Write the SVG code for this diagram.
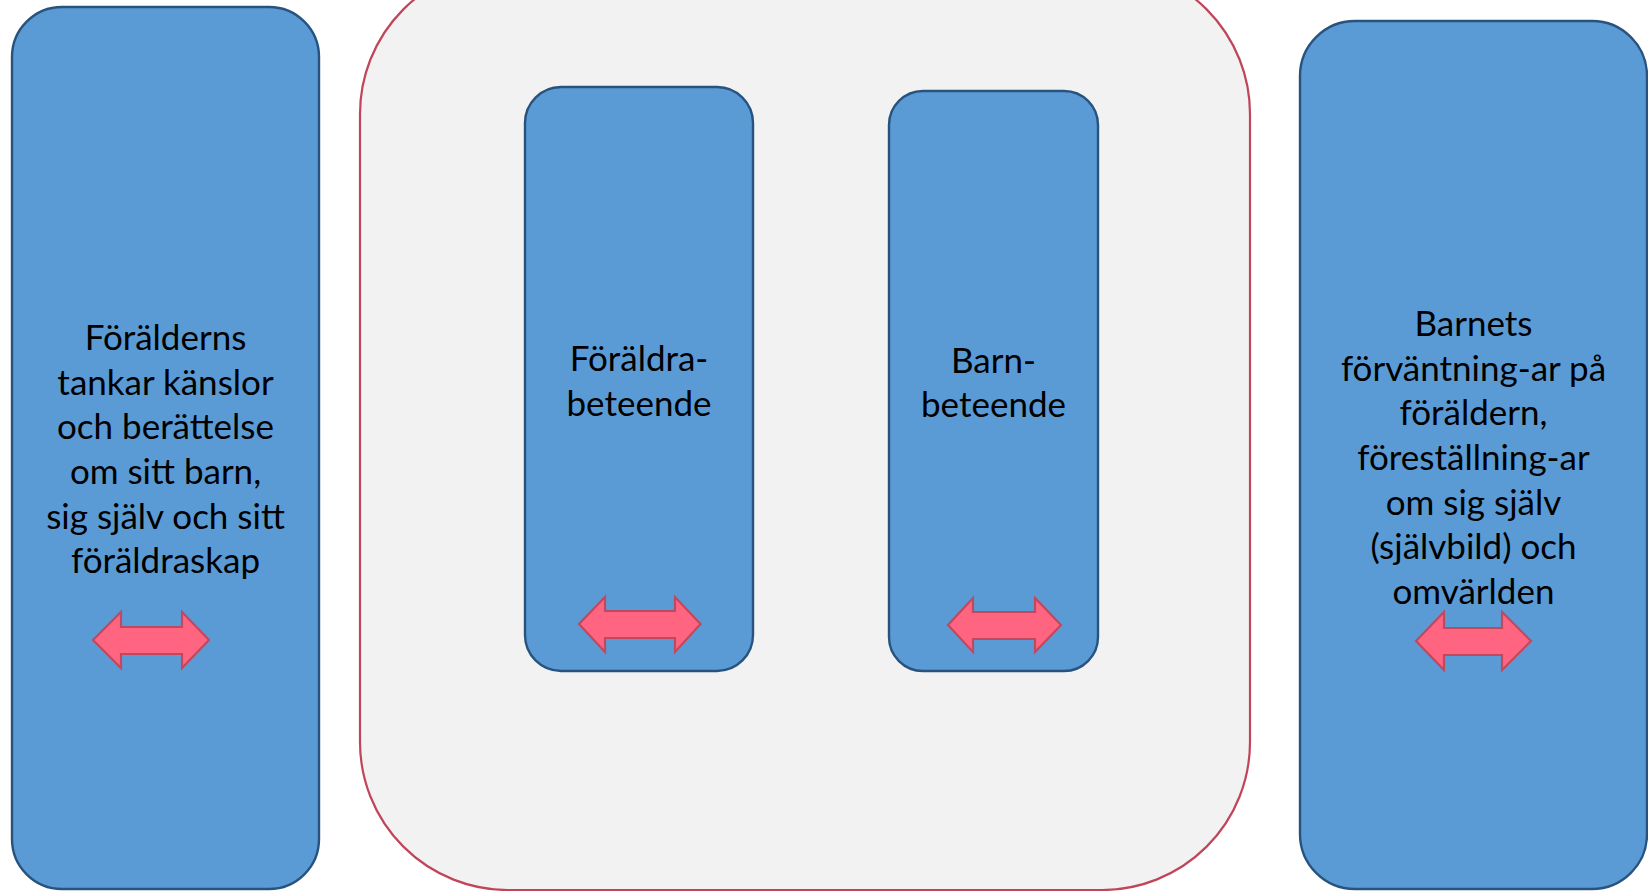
<svg xmlns="http://www.w3.org/2000/svg" width="1648" height="891" viewBox="0 0 1648 891">
  <style>
    .box { fill: #5B9BD5; stroke: #27537E; stroke-width: 2.4; }
    .frame { fill: #F2F2F2; stroke: #C0455A; stroke-width: 2.2; }
    .arrow { fill: #FF6581; stroke: #C2485E; stroke-width: 2.2; stroke-linejoin: miter; }
    .lbl { font-family: Lato, "Open Sans", "Liberation Sans", sans-serif; font-size: 35px; fill: #000; text-anchor: middle; }
  </style>
  <rect width="1648" height="891" fill="#FFFFFF"/>
  <g id="frame-interaction">
    <rect class="frame" x="360" y="-34" width="890" height="924" rx="148" ry="148"/>
  </g>
  <g id="node-parent-thoughts">
    <rect class="box" x="12" y="7" width="307" height="882" rx="50" ry="50"/>
    <text class="lbl" x="165.5" y="350">Förälderns</text>
    <text class="lbl" x="165.5" y="395">tankar känslor</text>
    <text class="lbl" x="165.5" y="439">och berättelse</text>
    <text class="lbl" x="165.5" y="484">om sitt barn,</text>
    <text class="lbl" x="165.5" y="529">sig själv och sitt</text>
    <text class="lbl" x="165.5" y="573">föräldraskap</text>
  </g>
  <g id="node-parent-behaviour">
    <rect class="box" x="525" y="87" width="228" height="584" rx="36" ry="36"/>
    <text class="lbl" x="639" y="371">Föräldra-</text>
    <text class="lbl" x="639" y="416">beteende</text>
  </g>
  <g id="node-child-behaviour">
    <rect class="box" x="889" y="91" width="209" height="580" rx="34" ry="34"/>
    <text class="lbl" x="993.5" y="373">Barn-</text>
    <text class="lbl" x="993.5" y="417">beteende</text>
  </g>
  <g id="node-child-expectations">
    <rect class="box" x="1300" y="21" width="347" height="868" rx="55" ry="55"/>
    <text class="lbl" x="1473.5" y="336">Barnets</text>
    <text class="lbl" x="1473.5" y="381">förväntning-ar på</text>
    <text class="lbl" x="1473.5" y="425">föräldern,</text>
    <text class="lbl" x="1473.5" y="470">föreställning-ar</text>
    <text class="lbl" x="1473.5" y="515">om sig själv</text>
    <text class="lbl" x="1473.5" y="559">(självbild) och</text>
    <text class="lbl" x="1473.5" y="604">omvärlden</text>
  </g>
  <g id="connectors">
    <polygon class="arrow" points="93,640 121,612 121,627 182,627 182,612 209,640 182,668 182,654 121,654 121,668"/>
    <polygon class="arrow" points="579,624 605,597 605,611 675,611 675,597 700.5,624 675,652 675,638 605,638 605,652"/>
    <polygon class="arrow" points="948,625 973,598 973,612 1035,612 1035,598 1061,625 1035,652 1035,639 973,639 973,652"/>
    <polygon class="arrow" points="1416,641 1444,612 1444,628 1502,628 1502,612 1531,641 1502,670 1502,655 1444,655 1444,670"/>
  </g>
</svg>
